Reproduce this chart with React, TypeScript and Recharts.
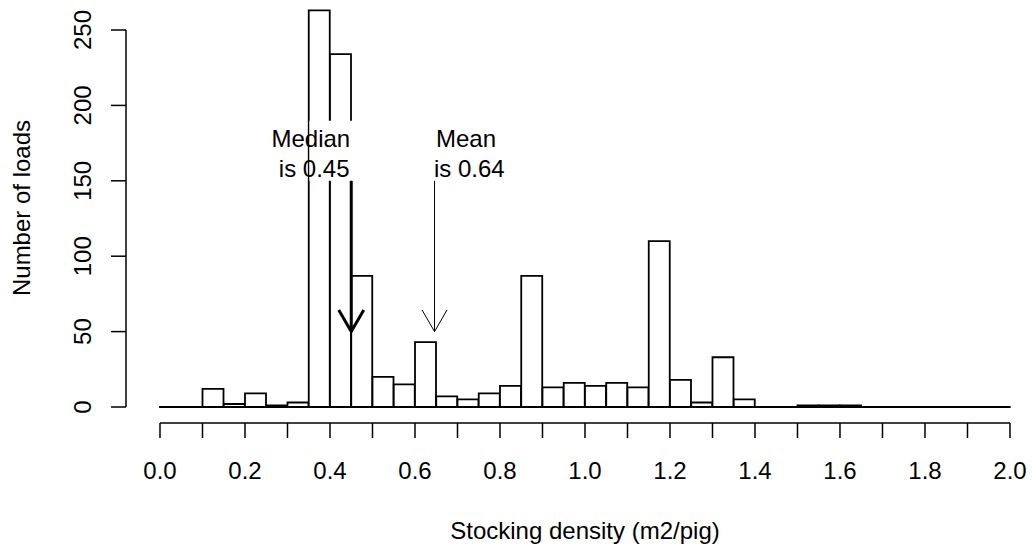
import React from 'react';
import { ComposedChart, Bar, XAxis, YAxis, ReferenceLine, ReferenceDot } from 'recharts';

// histogram bins (lower edge, width 0.05 m2/pig)
const binStart = [
  0, 0.05, 0.1, 0.15, 0.2, 0.25, 0.3, 0.35, 0.4, 0.45,
  0.5, 0.55, 0.6, 0.65, 0.7, 0.75, 0.8, 0.85, 0.9, 0.95,
  1.0, 1.05, 1.1, 1.15, 1.2, 1.25, 1.3, 1.35, 1.4, 1.45,
  1.5, 1.55, 1.6, 1.65, 1.7, 1.75, 1.8, 1.85, 1.9, 1.95,
];
const loads = [
  0, 0, 12, 2, 9, 1, 3, 263, 234, 87,
  20, 15, 43, 7, 5, 9, 14, 87, 13, 16,
  14, 16, 13, 110, 18, 3, 33, 5, 0, 0,
  1, 1, 1, 0, 0, 0, 0, 0, 0, 0,
];
const binWidth = 0.05;

const xTicks = [0, 0.1, 0.2, 0.3, 0.4, 0.5, 0.6, 0.7, 0.8, 0.9, 1.0, 1.1, 1.2, 1.3, 1.4, 1.5, 1.6, 1.7, 1.8, 1.9, 2.0];
const yTicks = [0, 50, 100, 150, 200, 250];

const medianValue = 0.45;
const meanValue = 0.646;
const arrowTop = 150;
const arrowTip = 50;
const medianLines = ['Median', ' is 0.45'];
const meanLines = ['Mean', ' is 0.64'];

// blank area behind the median label (bar outlines are interrupted there)
const gapX = [0.36, 0.47];
const gapY = [150, 190];

// R-style plot region (4% padding around the data range)
const xDomain = [-0.08, 2.0518];
const yDomain = [-10.61, 269.9];

const font = '"Liberation Sans", Arial, Helvetica, sans-serif';

const data = binStart.map((b, i) => ({ lo: b, mid: b + binWidth / 2, n: loads[i] }));

const HistRect = (p: any) => {
  const x = Number(p.x);
  const y = Number(p.y);
  const width = Number(p.width);
  const height = Number(p.height);
  if (!isFinite(x) || !isFinite(y)) return <g />;
  const entry = p.payload || p;
  const n = Number(entry.n ?? p.n ?? 0);
  const lo = Number(entry.lo ?? p.lo ?? 0);
  const yb = y + height;
  const k = n > 0 ? height / n : 0;
  const px = (v: number) => x + ((v - lo) / binWidth) * width;
  const gTop = yb - gapY[1] * k;
  const gBot = yb - gapY[0] * k;
  const inGap = (xe: number) =>
    k > 0 && xe >= px(gapX[0]) && xe <= px(gapX[1]) && y < gTop;

  const segs: string[] = [`M${x},${y}H${x + width}`, `M${x},${yb}H${x + width}`];
  [x, x + width].forEach((xe) => {
    if (inGap(xe)) {
      segs.push(`M${xe},${y}V${gTop}`);
      if (yb > gBot) segs.push(`M${xe},${gBot}V${yb}`);
    } else {
      segs.push(`M${xe},${y}V${yb}`);
    }
  });

  return (
    <g>
      <path d={`M${x},${y}h${width}v${height}h${-width}Z`} fill="#fff" stroke="none" />
      <path d={segs.join('')} fill="none" stroke="#000" strokeWidth={1.8} strokeLinecap="square" />
    </g>
  );
};

const XTick = (p: any) => {
  const v = p.payload.value;
  if (Math.round(v * 10) % 2 !== 0) return <g />;
  return (
    <text x={p.x} y={p.y + 41} textAnchor="middle" fontFamily={font} fontSize={24} fill="#000">
      {v.toFixed(1)}
    </text>
  );
};

const YTick = (p: any) => {
  const bx = p.x - 19.5;
  return (
    <text
      x={bx}
      y={p.y}
      transform={`rotate(-90, ${bx}, ${p.y})`}
      textAnchor="middle"
      fontFamily={font}
      fontSize={24}
      fill="#000"
    >
      {p.payload.value}
    </text>
  );
};

const Arrow = (width: number) => (p: any) => {
  const { x1, y1, x2, y2 } = p;
  const len = 25;
  const ang = Math.PI / 6;
  const dir = Math.atan2(y2 - y1, x2 - x1);
  const ax = x2 - len * Math.cos(dir - ang);
  const ay = y2 - len * Math.sin(dir - ang);
  const bx = x2 - len * Math.cos(dir + ang);
  const by = y2 - len * Math.sin(dir + ang);
  return (
    <g>
      <line x1={x1} y1={y1} x2={x2} y2={y2} stroke="#000" strokeWidth={width} />
      <polyline
        points={`${ax},${ay} ${x2},${y2} ${bx},${by}`}
        fill="none"
        stroke="#000"
        strokeWidth={width}
      />
    </g>
  );
};

const Note = (lines: string[], backing: boolean) => (p: any) => (
  <g>
    {backing ? (
      <path d={`M${p.cx - 1.5},${p.cy - 33}h46v60h-46Z`} fill="#ffffff" fillOpacity={1} stroke="none" />
    ) : null}
    <text fontFamily={font} fontSize={24} fill="#000" textAnchor="middle" style={{ whiteSpace: 'pre' }}>
      <tspan x={p.cx} y={p.cy - 7}>{lines[0]}</tspan>
      <tspan x={p.cx} y={p.cy + 23}>{lines[1]}</tspan>
    </text>
  </g>
);

const AxisTitles = () => (
  <g fontFamily={font} fontSize={24} fill="#000">
    <text x={585} y={539} textAnchor="middle">Stocking density (m2/pig)</text>
    <text x={30} y={208} transform="rotate(-90, 30, 208)" textAnchor="middle">Number of loads</text>
  </g>
);

export default function App() {
  return (
    <div style={{ position: 'absolute', left: 0, top: 0, width: 1032, height: 552, background: '#fff' }}>
      <ComposedChart
        width={1032}
        height={552}
        data={data}
        margin={{ top: 0, right: 0, bottom: 0, left: 0 }}
        barCategoryGap={0}
        barGap={0}
      >
        <XAxis
          dataKey="mid"
          type="number"
          domain={xDomain}
          allowDataOverflow
          ticks={xTicks}
          interval={0}
          height={129}
          axisLine={false}
          tickSize={15}
          tickMargin={0}
          tickLine={{ stroke: '#000', strokeWidth: 1.5 }}
          tick={<XTick />}
        />
        <YAxis
          type="number"
          domain={yDomain}
          allowDataOverflow
          ticks={yTicks}
          interval={0}
          width={126}
          axisLine={false}
          tickSize={15}
          tickMargin={0}
          tickLine={{ stroke: '#000', strokeWidth: 1.5 }}
          tick={<YTick />}
        />
        <Bar dataKey="n" shape={HistRect} isAnimationActive={false} />
        <ReferenceLine
          segment={[{ x: 0, y: 0 }, { x: 2, y: 0 }]}
          stroke="#000"
          strokeWidth={1.8}
          ifOverflow="visible"
        />
        <ReferenceLine
          segment={[{ x: 0, y: yDomain[0] }, { x: 2, y: yDomain[0] }]}
          stroke="#000"
          strokeWidth={1.5}
          ifOverflow="visible"
        />
        <ReferenceLine
          segment={[{ x: xDomain[0], y: 0 }, { x: xDomain[0], y: 250 }]}
          stroke="#000"
          strokeWidth={1.5}
          ifOverflow="visible"
        />
        <ReferenceDot x={0.355} y={168} r={0} ifOverflow="visible" shape={Note(medianLines, true)} />
        <ReferenceDot x={0.72} y={168} r={0} ifOverflow="visible" shape={Note(meanLines, false)} />
        <ReferenceLine
          segment={[{ x: medianValue, y: arrowTop }, { x: medianValue, y: arrowTip }]}
          ifOverflow="visible"
          shape={Arrow(3)}
        />
        <ReferenceLine
          segment={[{ x: meanValue, y: arrowTop }, { x: meanValue, y: arrowTip }]}
          ifOverflow="visible"
          shape={Arrow(1)}
        />
        <AxisTitles />
      </ComposedChart>
    </div>
  );
}
